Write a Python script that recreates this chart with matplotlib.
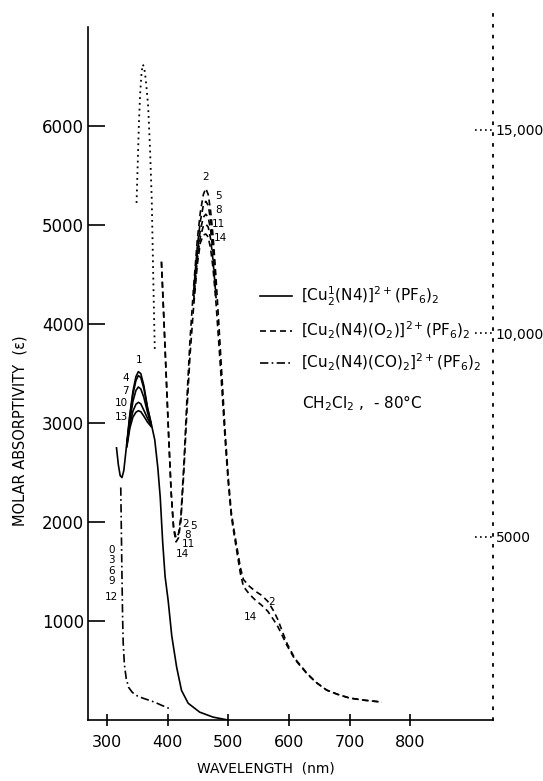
import matplotlib.pyplot as plt

# [Cu2(N4)]2+ (solid), trace 1 over the full range
wl_cu1 = [316, 319, 322, 325, 328, 333, 338, 343, 348, 352, 356, 361, 367, 373,
          379, 384, 388, 392, 396, 401, 407, 415, 423, 434, 453, 475, 500]
eps_cu1 = [2750, 2580, 2470, 2450, 2520, 2800, 3090, 3320, 3470, 3520, 3500, 3380,
           3160, 3000, 2830, 2550, 2250, 1800, 1450, 1210, 850, 535, 300, 170, 80, 30, 0]
# later Cu(I) traces near the band maximum
wl_cu1_peak = [333, 338, 343, 348, 352, 356, 361, 367, 373]
eps_cu1_t4 = [2790, 3070, 3290, 3430, 3480, 3460, 3350, 3150, 2995]
eps_cu1_t7 = [2780, 3030, 3220, 3330, 3365, 3345, 3260, 3110, 2985]
eps_cu1_t10 = [2770, 2990, 3120, 3190, 3210, 3195, 3130, 3050, 2975]
eps_cu1_t13 = [2760, 2950, 3060, 3110, 3125, 3115, 3070, 3010, 2965]

# [Cu2(N4)(O2)]2+ (dashed), traces 2 and 14 over the full range
wl_o2 = [390, 394, 398, 402, 406, 410, 414, 418, 422, 427, 432, 437, 443, 449, 454,
         459, 463, 467, 471, 475, 480, 485, 490, 495, 500, 505, 510, 515, 520, 525,
         535, 545, 555, 565, 575, 582, 590, 597, 610, 630, 645, 662, 680, 700, 725, 753]
eps_o2_t2 = [4630, 4050, 3450, 2850, 2300, 1950, 1840, 1880, 2060, 2600, 3250, 3840,
             4380, 4850, 5130, 5310, 5370, 5310, 5140, 4890, 4450, 3950, 3430, 2900,
             2450, 2100, 1900, 1720, 1540, 1420, 1350, 1300, 1260, 1200, 1100, 1010,
             880, 770, 620, 470, 380, 303, 260, 222, 200, 182]
eps_o2_t14 = [4630, 4050, 3450, 2850, 2300, 1930, 1800, 1840, 2010, 2520, 3130, 3680,
              4180, 4600, 4820, 4900, 4910, 4880, 4760, 4560, 4200, 3760, 3300, 2820,
              2400, 2060, 1860, 1670, 1480, 1350, 1270, 1210, 1160, 1100, 1010, 940,
              840, 750, 610, 465, 378, 303, 260, 222, 200, 182]
# intermediate O2 traces near the band maximum
wl_o2_peak = [443, 449, 454, 459, 463, 467, 471, 475, 480]
eps_o2_t5 = [4330, 4780, 5040, 5200, 5240, 5200, 5050, 4810, 4390]
eps_o2_t8 = [4280, 4710, 4950, 5080, 5110, 5080, 4950, 4720, 4320]
eps_o2_t11 = [4230, 4650, 4880, 4990, 5010, 4980, 4860, 4640, 4260]

# same O2 adduct, intense band on the right-hand scale (dotted)
wl_o2_uv = [349, 351, 353, 355, 357, 359, 361, 363, 365, 368, 371, 374, 377, 379]
eps_o2_uv = [13200, 14200, 15200, 15900, 16350, 16600, 16560, 16380, 16100, 15600,
             14600, 13300, 11000, 9600]

# [Cu2(N4)(CO)2]2+ (dash-dot)
wl_co = [323, 324, 325, 326, 327, 329, 332, 336, 342, 350, 360, 370, 380, 390, 400, 407]
eps_co = [2350, 1900, 1450, 1050, 780, 560, 420, 330, 280, 245, 220, 200, 178, 150, 125, 100]

left_ticks = [1000, 2000, 3000, 4000, 5000, 6000]
right_ticks = [5000, 10000, 15000]
right_labels = ['5000', '10,000', '15,000']
x_ticks = [300, 400, 500, 600, 700, 800]

legend_labels = [r'[Cu$_2^1$(N4)]$^{2+}$(PF$_6$)$_2$',
                 r'[Cu$_2$(N4)(O$_2$)]$^{2+}$(PF$_6$)$_2$',
                 r'[Cu$_2$(N4)(CO)$_2$]$^{2+}$(PF$_6$)$_2$']

plt.rcParams['font.family'] = ['DejaVu Sans']

fig = plt.figure(figsize=(5.43, 7.81), dpi=100)
ax = fig.add_axes([0.162, 0.078, 0.746, 0.905])
ax2 = ax.twinx()

lw = 1.2
dash = (0, (3.6, 2.4))
dashdot = (0, (5, 2, 1, 2))

h1, = ax.plot(wl_cu1, eps_cu1, color='k', lw=lw)
for e in [eps_cu1_t4, eps_cu1_t7, eps_cu1_t10, eps_cu1_t13]:
    ax.plot(wl_cu1_peak, e, color='k', lw=lw)

h2, = ax.plot(wl_o2, eps_o2_t2, color='k', lw=lw, ls=dash)
ax.plot(wl_o2, eps_o2_t14, color='k', lw=lw, ls=dash)
for e in [eps_o2_t5, eps_o2_t8, eps_o2_t11]:
    ax.plot(wl_o2_peak, e, color='k', lw=lw, ls=dash)

h3, = ax.plot(wl_co, eps_co, color='k', lw=lw, ls=dashdot)

ax2.plot(wl_o2_uv, eps_o2_uv, color='k', lw=1.3, ls=(0, (1, 2.2)))

# axes limits
ax.set_xlim(269, 936)
ax.set_ylim(0, 7140)
ax2.set_ylim(491, 17860)

# spines
ax.spines['top'].set_visible(False)
ax2.spines['top'].set_visible(False)
ax.spines['right'].set_visible(False)
ax2.spines['left'].set_visible(False)
ax2.spines['bottom'].set_visible(False)
ax2.spines['right'].set_linestyle((0, (1, 5)))
ax2.spines['right'].set_linewidth(1.3)
ax.spines['left'].set_bounds(0, 7000)
ax.spines['left'].set_linewidth(1.2)
ax.spines['bottom'].set_linewidth(1.2)

ax.set_yticks(left_ticks)
ax.set_yticklabels([str(t) for t in left_ticks], fontsize=12)
ax.tick_params(axis='y', direction='in', length=12, width=1.2, pad=3)
ax.set_xticks(x_ticks)
ax.set_xticklabels([str(t) for t in x_ticks], fontsize=11.5)
ax.tick_params(axis='x', direction='inout', length=9, width=1.2, pad=6)

ax2.set_yticks(right_ticks)
ax2.set_yticklabels(right_labels, fontsize=10)
ax2.tick_params(axis='y', length=0, pad=2)
for t in right_ticks:
    ax2.plot([0.955, 1.0], [t, t], transform=ax2.get_yaxis_transform(),
             color='k', lw=1.2, ls=(0, (1, 2)), clip_on=False)

ax.set_ylabel('MOLAR ABSORPTIVITY  (ε)', fontsize=10.5)
ax.yaxis.set_label_coords(-0.15, 0.41)
ax.set_xlabel('WAVELENGTH  (nm)', fontsize=10)
ax.xaxis.set_label_coords(0.44, -0.058)

# trace numbers
num_fs = 7.5
for txt, x, y in [('1', 352.5, 3640), ('4', 331, 3460), ('7', 331, 3320),
                  ('10', 324, 3200), ('13', 324, 3060)]:
    ax.text(x, y, txt, fontsize=num_fs, ha='center', va='center')
for txt, x, y in [('2', 463, 5490), ('5', 484, 5290), ('8', 484, 5150),
                  ('11', 484, 5010), ('14', 487, 4870)]:
    ax.text(x, y, txt, fontsize=num_fs, ha='center', va='center')
for txt, x, y in [('2', 429, 1985), ('5', 443, 1965), ('8', 433, 1870),
                  ('11', 434, 1775), ('14', 424, 1680)]:
    ax.text(x, y, txt, fontsize=num_fs, ha='center', va='center')
for txt, x, y in [('2', 572, 1195), ('14', 536, 1040)]:
    ax.text(x, y, txt, fontsize=num_fs, ha='center', va='center')
for txt, y in [('0', 1720), ('3', 1615), ('6', 1510), ('9', 1400), ('12', 1240)]:
    ax.text(308, y, txt, fontsize=num_fs, ha='center', va='center')

ax.legend([h1, h2, h3], legend_labels, loc='upper left', bbox_to_anchor=(0.39, 0.635),
          frameon=False, fontsize=11, handlelength=2.1, handletextpad=0.6,
          labelspacing=0.75)
ax.text(621, 3200, r'CH$_2$Cl$_2$ ,  - 80°C', fontsize=11, ha='left', va='center')

fig.savefig('out.png', dpi=100)
